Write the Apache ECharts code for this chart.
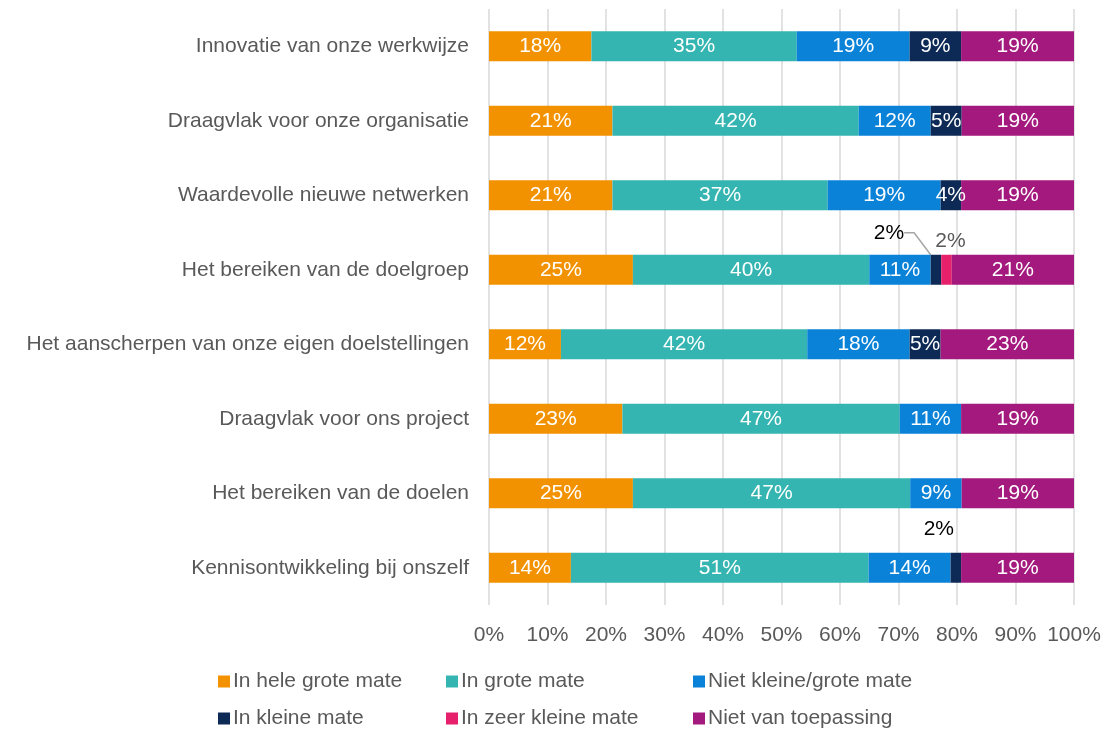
<!DOCTYPE html>
<html>
<head>
<meta charset="utf-8">
<script src="https://cdn.jsdelivr.net/npm/echarts@6/dist/echarts.min.js"></script>
<style>
  html, body { margin: 0; padding: 0; background: #fff; }
  #chart { width: 1107px; height: 731px; }
</style>
</head>
<body>
<div id="chart"></div>
<script>
const categories = [
  'Innovatie van onze werkwijze',
  'Draagvlak voor onze organisatie',
  'Waardevolle nieuwe netwerken',
  'Het bereiken van de doelgroep',
  'Het aanscherpen van onze eigen doelstellingen',
  'Draagvlak voor ons project',
  'Het bereiken van de doelen',
  'Kennisontwikkeling bij onszelf'
];
const heleGroteMate = [17.5, 21.1, 21.1, 24.6, 12.3, 22.8, 24.6, 14.0];
const groteMate = [35.1, 42.1, 36.8, 40.4, 42.1, 47.4, 47.4, 50.9];
const nietKleineGrote = [19.3, 12.3, 19.3, 10.5, 17.5, 10.5, 8.8, 14.0];
const kleineMate = [8.8, 5.3, 3.5, 1.8, 5.3, null, null, 1.8];
const zeerKleineMate = [null, null, null, 1.8, null, null, null, null];
const nietVanToepassing = [19.3, 19.3, 19.3, 21.1, 22.8, 19.3, 19.3, 19.3];
const xTicks = [0, 10, 20, 30, 40, 50, 60, 70, 80, 90, 100];

const seriesNames = ['In hele grote mate', 'In grote mate', 'Niet kleine/grote mate',
  'In kleine mate', 'In zeer kleine mate', 'Niet van toepassing'];
const seriesValues = [heleGroteMate, groteMate, nietKleineGrote, kleineMate, zeerKleineMate, nietVanToepassing];
const colors = ['#F39200', '#35B5B1', '#0A82D8', '#0C2A55', '#E6206A', '#A3197D'];

const font = '"Liberation Sans", Arial, sans-serif';
const grey = '#595959';
const fs = 21;

// labels that sit outside the bar (series index -> data index -> offset)
const movedLabels = {
  3: {
    3: { dx: -47, dy: -37, color: '#000', line: true },
    7: { dx: -17, dy: -39, color: '#000' }
  },
  4: { 3: { dx: 4, dy: -29, color: grey } }
};

const series = seriesValues.map((vals, si) => ({
  name: seriesNames[si],
  type: 'bar',
  stack: 'total',
  barWidth: 30,
  itemStyle: { color: colors[si] },
  label: {
    show: true,
    position: 'inside',
    color: '#fff',
    fontFamily: font,
    fontSize: fs,
    formatter: p => p.value == null ? '' : Math.round(p.value) + '%'
  },
  labelLayout: params => {
    const m = movedLabels[si] && movedLabels[si][params.dataIndex];
    return m ? { dx: m.dx, dy: m.dy } : {};
  },
  data: vals.map((v, i) => {
    const m = movedLabels[si] && movedLabels[si][i];
    if (!m) return v;
    const item = { value: v, label: { color: m.color } };
    if (m.line) item.labelLine = { show: true, length2: 10, lineStyle: { color: '#a6a6a6', width: 1.5 } };
    return item;
  })
}));

const legendLefts = [213, 441, 688];
const legendTops = [666, 703];
const legend = seriesNames.map((name, i) => ({
  data: [name],
  left: legendLefts[i % 3],
  top: legendTops[Math.floor(i / 3)],
  icon: 'rect',
  itemWidth: 12,
  itemHeight: 12,
  selectedMode: false,
  textStyle: { color: grey, fontFamily: font, fontSize: fs, padding: [0, 0, 0, -2] }
}));

const option = {
  animation: false,
  textStyle: { fontFamily: font },
  grid: { left: 489, right: 33, top: 9, bottom: 126, containLabel: false },
  legend,
  xAxis: {
    type: 'value',
    min: xTicks[0],
    max: xTicks[xTicks.length - 1],
    interval: 10,
    axisLine: { show: false },
    axisTick: { show: false },
    axisLabel: { color: grey, fontSize: fs, fontFamily: font, margin: 20, formatter: '{value}%' },
    splitLine: { show: true, lineStyle: { color: '#d9d9d9', width: 1.5 } }
  },
  yAxis: {
    type: 'category',
    inverse: true,
    data: categories,
    axisLine: { show: false },
    axisTick: { show: false },
    axisLabel: { color: grey, fontSize: fs, fontFamily: font, margin: 20 }
  },
  series
};

const myChart = echarts.init(document.getElementById('chart'));
myChart.setOption(option);
window.addEventListener('resize', myChart.resize);
</script>
</body>
</html>
